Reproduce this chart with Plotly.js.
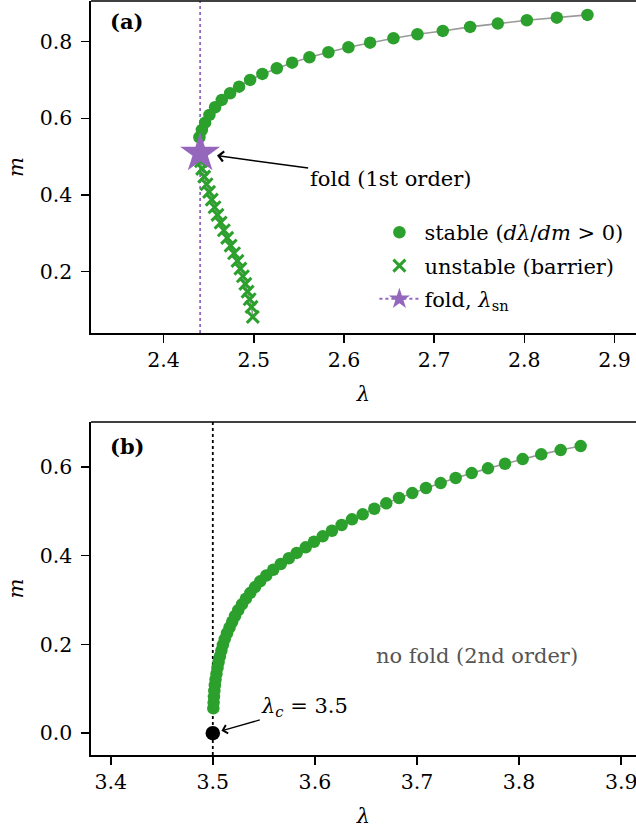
<!DOCTYPE html>
<html>
<head>
<meta charset="utf-8">
<script src="https://cdn.plot.ly/plotly-3.0.1.min.js"></script>
<style>html,body{margin:0;padding:0;background:#fff;overflow:hidden}#chart{width:636px;height:828px}</style>
</head>
<body>
<div id="chart"></div>
<script>
// ---------- Panel (a): first-order transition (fold) ----------
const stableA_lam = [2.4398,2.4425,2.4461,2.4509,2.4572,2.4646,2.4738,2.4838,2.4960,2.5096,2.5256,2.5426,2.5618,2.5828,2.6050,2.6290,2.6549,2.6815,2.7096,2.7399,2.7706,2.8028,2.8360,2.8700];
const stableA_m   = [0.5506,0.5696,0.5887,0.6088,0.6289,0.6479,0.6654,0.6826,0.7001,0.7157,0.7306,0.7452,0.7593,0.7723,0.7854,0.7974,0.8089,0.8193,0.8279,0.8384,0.8470,0.8558,0.8626,0.8697];
const unstableA_lam = [2.4415,2.4428,2.4451,2.4477,2.4505,2.4535,2.4566,2.4598,2.4633,2.4669,2.4706,2.4744,2.4782,2.4820,2.4852,2.4880,2.4907,2.4932,2.4955,2.4976,2.4990];
const unstableA_m   = [0.488,0.468,0.448,0.428,0.408,0.388,0.368,0.348,0.328,0.308,0.288,0.268,0.248,0.228,0.208,0.188,0.168,0.148,0.128,0.108,0.082];
const foldLam = 2.4406;
const foldM = 0.5088;

// ---------- Panel (b): second-order transition ----------
const stableB_lam = [3.5005,3.5008,3.5011,3.5015,3.5020,3.5027,3.5036,3.5046,3.5056,3.5069,3.5084,3.5099,3.5117,3.5139,3.5164,3.5190,3.5218,3.5249,3.5285,3.5324,3.5368,3.5414,3.5464,3.5524,3.5592,3.5666,3.5745,3.5822,3.5910,3.5991,3.6076,3.6167,3.6262,3.6363,3.6468,3.6582,3.6699,3.6824,3.6954,3.7088,3.7232,3.7379,3.7536,3.7695,3.7862,3.8035,3.8217,3.8407,3.8603];
const stableB_m   = [0.056,0.069,0.082,0.095,0.108,0.121,0.134,0.147,0.160,0.173,0.186,0.199,0.212,0.225,0.238,0.251,0.264,0.277,0.290,0.303,0.316,0.329,0.342,0.355,0.368,0.381,0.394,0.406,0.4185,0.4311,0.4433,0.4559,0.4687,0.4815,0.4928,0.5054,0.5175,0.5295,0.5407,0.5520,0.5632,0.5745,0.5857,0.5963,0.6067,0.6172,0.6278,0.6375,0.6465];
const critLam = 3.5;
const critM = 0.0;

// ---------- Tick labels ----------
const xTicksA = [2.4,2.5,2.6,2.7,2.8,2.9];
const xTickTextA = ['2.4','2.5','2.6','2.7','2.8','2.9'];
const yTicksA = [0.2,0.4,0.6,0.8];
const yTickTextA = ['0.2','0.4','0.6','0.8'];
const xTicksB = [3.4,3.5,3.6,3.7,3.8,3.9];
const xTickTextB = ['3.4','3.5','3.6','3.7','3.8','3.9'];
const yTicksB = [0.0,0.2,0.4,0.6];
const yTickTextB = ['0.0','0.2','0.4','0.6'];

const GREEN = '#2ca02c', PURPLE = '#9467bd', GREY = '#999999';
const FONT = 'DejaVu Serif';
const FS = 21;

const lineA_lam = stableA_lam.slice().reverse().concat([foldLam], unstableA_lam);
const lineA_m = stableA_m.slice().reverse().concat([foldM], unstableA_m);

const traces = [
  {x: lineA_lam, y: lineA_m, xaxis:'x', yaxis:'y', mode:'lines', line:{color:GREY, width:1.6}, showlegend:false, hoverinfo:'skip'},
  {x: stableA_lam, y: stableA_m, xaxis:'x', yaxis:'y', mode:'markers', name:'stable (<i>dλ</i>/<i>dm</i> &gt; 0)',
   marker:{symbol:'circle', size:12.5, color:GREEN}, legendgroup:'g1'},
  {x: unstableA_lam, y: unstableA_m, xaxis:'x', yaxis:'y', mode:'markers', name:'unstable (barrier)',
   marker:{symbol:'x-thin', size:12, color:GREEN, line:{color:GREEN, width:3}}, legendgroup:'g2'},
  {x: [foldLam], y: [foldM], xaxis:'x', yaxis:'y', mode:'lines+markers', name:'fold, <i>λ</i><sub>sn</sub>',
   line:{color:PURPLE, width:2, dash:'dot'}, marker:{symbol:'star', size:30, color:PURPLE}, legendgroup:'g3'},
  {x: stableB_lam, y: stableB_m, xaxis:'x2', yaxis:'y2', mode:'lines+markers', showlegend:false,
   line:{color:GREY, width:1.6}, marker:{symbol:'circle', size:12.5, color:GREEN}},
  {x: [critLam], y: [critM], xaxis:'x2', yaxis:'y2', mode:'markers', showlegend:false,
   marker:{symbol:'circle', size:14.5, color:'black'}}
];

const axisCommon = {
  showline:true, linecolor:'black', linewidth:1.6, mirror:false,
  ticks:'outside', ticklen:8, tickwidth:1.6, tickcolor:'black',
  showgrid:false, zeroline:false, tickmode:'array', ticklabeloverflow:'allow',
  tickfont:{family:FONT, size:20.5, color:'black'}
};

const layout = {
  width:636, height:828,
  margin:{l:91, r:0, t:1, b:73},
  paper_bgcolor:'white', plot_bgcolor:'white',
  font:{family:FONT, size:FS, color:'black'},
  showlegend:true,
  legend:{x:0.52, xanchor:'left', y:0.72, yanchor:'top', bgcolor:'rgba(255,255,255,0)',
          font:{family:FONT, size:FS, color:'black'}, traceorder:'grouped', tracegroupgap:3, itemwidth:40},
  xaxis: Object.assign({}, axisCommon, {domain:[0,1], anchor:'y', range:[2.3196,2.9238], tickvals:xTicksA, ticktext:xTickTextA,
          title:{text:'<i>λ</i>', font:{family:FONT, size:FS}, standoff:15}}),
  yaxis: Object.assign({}, axisCommon, {domain:[0.5597,1], anchor:'x', range:[0.040,0.906], tickvals:yTicksA, ticktext:yTickTextA,
          ticklabelstandoff:5, title:{text:'<i>m</i>', font:{family:FONT, size:FS}, standoff:10}}),
  xaxis2: Object.assign({}, axisCommon, {domain:[0,1], anchor:'y2', range:[3.3807,3.9145], tickvals:xTicksB, ticktext:xTickTextB,
          title:{text:'<i>λ</i>', font:{family:FONT, size:FS}, standoff:15}}),
  yaxis2: Object.assign({}, axisCommon, {domain:[0,0.4416], anchor:'x2', range:[-0.049,0.7006], tickvals:yTicksB, ticktext:yTickTextB,
          ticklabelstandoff:5, title:{text:'<i>m</i>', font:{family:FONT, size:FS}, standoff:10}}),
  shapes:[
    {type:'line', xref:'x domain', yref:'y domain', x0:0, x1:1, y0:1, y1:1, line:{color:'black', width:1.6}},
    {type:'line', xref:'x2 domain', yref:'y2 domain', x0:0, x1:1, y0:1, y1:1, line:{color:'black', width:1.6}},
    {type:'line', xref:'x', yref:'y domain', x0:foldLam, x1:foldLam, y0:0, y1:1, layer:'below', line:{color:PURPLE, width:1.8, dash:'dot'}},
    {type:'line', xref:'x2', yref:'y2 domain', x0:critLam, x1:critLam, y0:0, y1:1, layer:'below', line:{color:'black', width:1.8, dash:'dot'}}
  ],
  annotations:[
    {xref:'x domain', yref:'y domain', x:0.031, y:0.937, xanchor:'left', yanchor:'middle', showarrow:false,
     text:'<b>(a)</b>', font:{family:FONT, size:FS, color:'black'}},
    {xref:'x2 domain', yref:'y2 domain', x:0.031, y:0.928, xanchor:'left', yanchor:'middle', showarrow:false,
     text:'<b>(b)</b>', font:{family:FONT, size:FS, color:'black'}},
    {xref:'x', yref:'y', x:foldLam, y:foldM, ax:190, ay:26, text:'fold (1st order)', showarrow:true,
     arrowhead:4, arrowsize:1.3, arrowwidth:1.5, arrowcolor:'black', standoff:17, font:{family:FONT, size:FS, color:'black'}},
    {xref:'x2', yref:'y2', x:critLam, y:critM, ax:92, ay:-26, text:'<i>λ<sub>c</sub></i> = 3.5', showarrow:true,
     arrowhead:4, arrowsize:1.3, arrowwidth:1.3, arrowcolor:'black', standoff:9, font:{family:FONT, size:FS, color:'black'}},
    {xref:'x2', yref:'y2', x:3.7588, y:0.174, showarrow:false, text:'no fold (2nd order)',
     font:{family:FONT, size:FS, color:'#555555'}}
  ]
};

Plotly.newPlot('chart', traces, layout, {displayModeBar:false, staticPlot:true});
</script>
</body>
</html>
